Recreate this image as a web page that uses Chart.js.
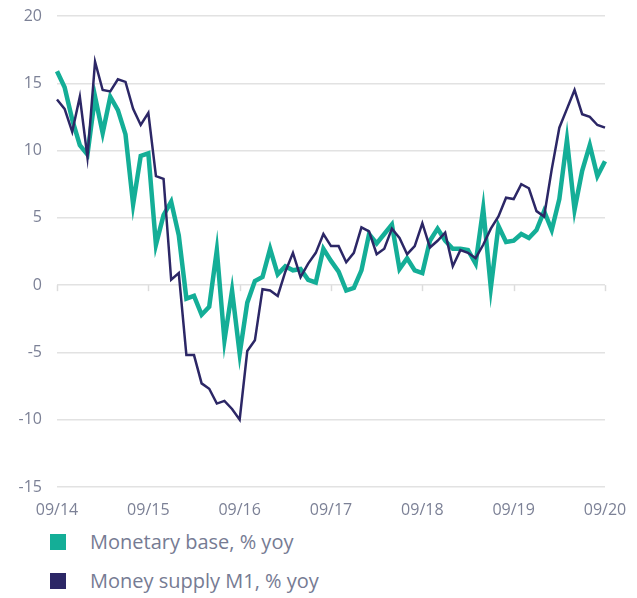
<!DOCTYPE html>
<html>
<head>
<meta charset="utf-8">
<script src="https://cdn.jsdelivr.net/npm/chart.js@4"></script>
<style>
  body { margin: 0; background: #fff; font-family: "Open Sans", sans-serif; }
  #wrap { position: relative; width: 637px; height: 525px; }
  .legend { position: absolute; left: 50px; color: #767b93; font-size: 20px; }
  .legend .box { display: inline-block; width: 16px; height: 16px; vertical-align: middle; margin-right: 24px; position: relative; top: -2px; }
</style>
</head>
<body>
<div id="wrap"><canvas id="chart"></canvas></div>
<div class="legend" style="top: 528px;"><span class="box" style="background:#14ae97"></span>Monetary base, % yoy</div>
<div class="legend" style="top: 567px;"><span class="box" style="background:#2c2766"></span>Money supply M1, % yoy</div>
<script>
// monthly, 09/2014 .. 09/2020
const months = [];
for (let y = 14; y <= 20; y++) {
  for (let m = 1; m <= 12; m++) {
    if ((y === 14 && m < 9) || (y === 20 && m > 9)) continue;
    months.push(String(m).padStart(2, "0") + "/" + y);
  }
}

const monetaryBase = [
  15.9, 14.7, 12.3, 10.4, 9.7, 14.0, 11.3, 14.0, 13.0, 11.2, 6.0, 9.6,
  9.8, 3.0, 5.2, 6.2, 3.7, -1.0, -0.8, -2.2, -1.6, 2.6, -4.1, -0.4,
  -5.1, -1.3, 0.3, 0.6, 2.7, 0.8, 1.4, 1.1, 1.2, 0.4, 0.2, 2.7,
  1.8, 1.0, -0.4, -0.2, 1.1, 3.8, 3.1, 3.8, 4.5, 1.2, 2.0, 1.1,
  0.9, 3.3, 4.2, 3.3, 2.7, 2.7, 2.6, 1.6, 5.7, -0.2, 4.4, 3.2,
  3.3, 3.8, 3.5, 4.1, 5.5, 4.1, 6.4, 10.8, 5.6, 8.5, 10.4, 8.1,
  9.2
];
const moneySupplyM1 = [
  13.8, 13.1, 11.4, 14.0, 9.5, 16.6, 14.5, 14.4, 15.3, 15.1, 13.1, 11.9,
  12.8, 8.1, 7.9, 0.4, 0.9, -5.2, -5.2, -7.3, -7.7, -8.8, -8.6, -9.2,
  -10.0, -4.9, -4.1, -0.3, -0.4, -0.8, 1.0, 2.4, 0.6, 1.6, 2.4, 3.8,
  2.9, 2.9, 1.7, 2.4, 4.3, 4.0, 2.3, 2.7, 4.2, 3.5, 2.3, 2.9,
  4.6, 2.8, 3.3, 3.9, 1.4, 2.6, 2.4, 2.0, 3.0, 4.2, 5.1, 6.5,
  6.4, 7.5, 7.2, 5.5, 5.1, 8.6, 11.7, 13.1, 14.5, 12.7, 12.5, 11.9,
  11.7
];

// small tick marks on the zero line at each September
const zeroTicks = {
  id: "zeroTicks",
  afterDraw(chart) {
    const { ctx, scales: { x, y } } = chart;
    const y0 = y.getPixelForValue(0);
    ctx.save();
    ctx.strokeStyle = "#dcdcdc";
    ctx.lineWidth = 1.5;
    months.forEach((m, i) => {
      if (!m.startsWith("09/")) return;
      const px = Math.round(x.getPixelForValue(i)) + 0.5;
      ctx.beginPath();
      ctx.moveTo(px, y0);
      ctx.lineTo(px, y0 + 6);
      ctx.stroke();
    });
    ctx.restore();
  },
};

new Chart(document.getElementById("chart"), {
  type: "line",
  data: {
    labels: months,
    datasets: [
      {
        label: "Monetary base, % yoy",
        data: monetaryBase,
        borderColor: "#14ae97",
        borderWidth: 4.5,
        pointRadius: 0,
        tension: 0,
        order: 1,
      },
      {
        label: "Money supply M1, % yoy",
        data: moneySupplyM1,
        borderColor: "#2c2766",
        borderWidth: 2.5,
        pointRadius: 0,
        tension: 0,
        order: 0,
      },
    ],
  },
  options: {
    responsive: true,
    maintainAspectRatio: false,
    animation: false,
    layout: { padding: { top: 16, right: 32, left: 0, bottom: 0 } },
    plugins: { legend: { display: false }, tooltip: { enabled: false } },
    scales: {
      x: {
        grid: { display: false },
        border: { display: false },
        afterFit(scale) {
          scale.height = 38;
          scale.paddingLeft = 0;
          scale.paddingRight = 0;
        },
        ticks: {
          autoSkip: false,
          maxRotation: 0,
          padding: 6,
          color: "#7c8196",
          font: { family: "Open Sans", size: 16 },
          callback(v, i) { return months[i].startsWith("09/") ? months[i] : ""; },
        },
      },
      y: {
        min: -15,
        max: 20,
        afterFit(scale) {
          scale.width = 57;
          scale.paddingTop = 0;
          scale.paddingBottom = 0;
        },
        grid: { color: "#e2e2e2", lineWidth: 1.5, drawTicks: false },
        border: { display: false },
        ticks: {
          stepSize: 5,
          padding: 15,
          color: "#7c8196",
          font: { family: "Open Sans", size: 16 },
        },
      },
    },
  },
  plugins: [zeroTicks],
});
</script>
</body>
</html>
